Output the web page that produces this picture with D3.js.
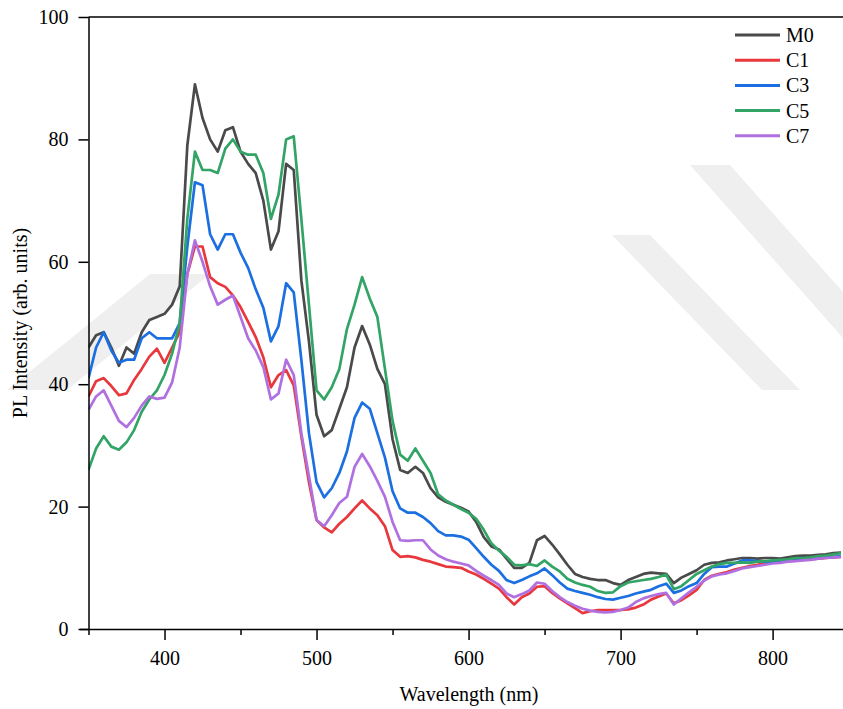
<!DOCTYPE html>
<html>
<head>
<meta charset="utf-8">
<script src="https://cdn.jsdelivr.net/npm/d3@7"></script>
<style>
  html, body { margin: 0; padding: 0; background: #fff; }
  svg { display: block; }
  text { font-family: "Liberation Serif", "Times New Roman", serif; fill: #000; }
</style>
</head>
<body>
<svg id="chart" width="843" height="709"></svg>
<script>
const wavelengths = [350,355,360,365,370,375,380,385,390,395,400,405,410,415,420,425,430,435,440,445,450,455,460,465,470,475,480,485,490,495,500,505,510,515,520,525,530,535,540,545,550,555,560,565,570,575,580,585,590,595,600,605,610,615,620,625,630,635,640,645,650,655,660,665,670,675,680,685,690,695,700,705,710,715,720,725,730,735,740,745,750,755,760,765,770,775,780,785,790,795,800,805,810,815,820,825,830,835,840,845];

const M0 = [46,48,48.5,46,43,46,45,48.5,50.5,51,51.5,53,56,79,89,83.5,80,78,81.5,82,78,76,74.5,70,62,65,76,75,57,47,35,31.5,32.5,36,39.5,46,49.5,46.5,42.5,40,31,26,25.5,26.5,25.5,23,21.5,20.8,20.3,19.8,19.2,17.5,15,13.5,13,11.5,10,10,10.8,14.5,15.2,13.8,12.2,10.5,9,8.5,8.2,8,8,7.5,7.2,8,8.5,9,9.2,9.1,9,7.5,8.4,9,9.6,10.5,10.8,10.9,11.2,11.4,11.6,11.6,11.5,11.6,11.6,11.5,11.7,11.9,12,12,12.1,12.2,12.4,12.5];

const C1 = [38,40.5,41,39.7,38.2,38.5,40.7,42.5,44.5,45.8,43.5,46,48.5,58,62.5,62.5,57.5,56.5,55.9,54.5,52.6,50.2,47.7,44.4,39.5,41.5,42.3,39.8,31.5,24,17.8,16.6,15.8,17.2,18.3,19.7,21,19.7,18.6,16.8,12.9,11.8,11.9,11.7,11.3,11,10.6,10.2,10.1,10,9.4,8.9,8.2,7.4,6.6,5.2,4,5.2,5.8,6.9,7,5.9,5,4.2,3.4,2.6,2.9,3.1,3.1,3.1,3.1,3.2,3.5,4,4.8,5.3,5.8,4.2,4.7,5.5,6.4,8,8.7,9,9.3,9.7,10,10.3,10.5,10.8,10.9,11,11.1,11.2,11.3,11.4,11.5,11.6,11.7,11.8];

const C3 = [41,46,48.5,45.5,43.5,44,44,47.5,48.5,47.5,47.5,47.5,50,62.5,73,72.5,64.5,62,64.5,64.5,61.5,59,55.5,52.5,47,49.5,56.5,55,44,32,24,21.5,23,25.5,29,34.5,37,36,32,28,22.5,19.7,19,19,18.3,17.3,16,15.3,15.3,15.1,14.6,13.2,11.8,10.5,9.5,8,7.5,8,8.6,9.1,9.9,8.8,7.6,6.6,6.2,5.9,5.6,5.2,4.9,4.8,5.1,5.4,5.8,6.1,6.4,7,7.4,5.9,6.3,7,7.5,9,10.1,10.2,10.2,10.7,11.2,11.2,11.1,11,11,11,11.1,11.3,11.4,11.5,11.6,11.7,11.8,11.9];

const C5 = [26,29.5,31.5,29.8,29.3,30.5,32.5,35.5,37.5,39,41.5,45,50,67,78,75,75,74.5,78.5,80,78,77.5,77.5,74.5,67,71,80,80.5,67,53,39,37.5,39.5,42.5,49,53,57.5,54,51,42.5,34,28.5,27.5,29.5,27.5,25.5,22,21,20.3,19.6,19,18,16.2,14,12.8,11.8,10.5,10.4,10.6,10.3,11.2,10.2,9.4,8.2,7.6,7.2,6.9,6.2,5.9,6,7,7.6,7.8,8,8.2,8.5,8.9,6.5,7,8,9,9.6,10.2,10.6,10.8,10.8,10.9,10.8,11,11.1,11.2,11.3,11.4,11.6,11.6,11.7,11.9,12,12.2,12.4];

const C7 = [35.8,38,39,36.5,34,33,34.5,36.5,38,37.6,37.8,40.3,46,58,63.5,60,56,53,53.8,54.5,51,47.5,45.5,42.8,37.5,38.5,44,41.5,32,25,17.8,16.8,18.6,20.6,21.6,26.5,28.6,26.6,24.2,21.6,17.5,14.5,14.4,14.5,14.5,13,12,11.4,11,10.7,10.4,9.5,8.7,8,7.2,5.8,5.2,5.7,6.3,7.6,7.4,6.2,5.2,4.4,3.8,3.3,3,2.8,2.7,2.8,3.1,3.5,4.4,5,5.4,5.7,5.9,4,5,6,6.9,7.9,8.6,8.9,9.1,9.5,9.9,10.1,10.3,10.5,10.7,10.8,11,11.1,11.2,11.3,11.5,11.6,11.7,11.8];

const seriesNames = ["M0", "C1", "C3", "C5", "C7"];
const seriesValues = [M0, C1, C3, C5, C7];
const seriesColors = ["#4a4a4a", "#e8383d", "#1b6fe0", "#32a466", "#b070e0"];

const xMajorTicks = [400, 500, 600, 700, 800];
const xMinorTicks = [350, 450, 550, 650, 750];
const yTicks = [0, 20, 40, 60, 80, 100];

const svg = d3.select("#chart");

// faint background watermark bands (decorative)
const wm = svg.append("g").attr("fill", "#efefef");
[
  [[7,390],[90,323],[150,274],[210,274],[67,390]],
  [[612,235],[650,235],[800,390],[762,390]],
  [[690,165],[730,165],[843,292],[843,338]]
].forEach(p => wm.append("polygon").attr("points", p.map(q => q.join(",")).join(" ")));

const x = d3.scaleLinear().domain([350, 846.3]).range([88.5, 843]);
const y = d3.scaleLinear().domain([0, 100]).range([629, 17]);

svg.append("defs").append("clipPath").attr("id", "plotclip")
  .append("rect").attr("x", 88.5).attr("y", 17).attr("width", 843 - 88.5).attr("height", 612);

const line = d3.line().x((d, i) => x(wavelengths[i])).y(d => y(d));
const gLines = svg.append("g").attr("clip-path", "url(#plotclip)");
seriesValues.forEach((vals, k) => {
  gLines.append("path")
    .datum(vals)
    .attr("d", line)
    .attr("fill", "none")
    .attr("stroke", seriesColors[k])
    .attr("stroke-width", 2.7)
    .attr("stroke-linejoin", "round");
});

svg.append("line").attr("x1", 88.5).attr("x2", 843).attr("y1", 17).attr("y2", 17)
  .attr("stroke", "#000").attr("stroke-width", 1.5);

const xAxis = d3.axisBottom(x).tickValues(xMajorTicks).tickSize(11).tickPadding(11).tickFormat(d3.format("d"));
const gx = svg.append("g").attr("transform", "translate(0,629)").call(xAxis);
gx.select(".domain").attr("stroke-width", 1.5).attr("d", "M80,0.5H843");
gx.selectAll(".tick line").attr("stroke-width", 1.5);
gx.selectAll(".tick text").attr("font-size", 20).attr("font-family", "Liberation Serif, serif");
const xMinor = d3.axisBottom(x).tickValues(xMinorTicks).tickSize(6).tickFormat("");
const gxm = svg.append("g").attr("transform", "translate(0,629)").call(xMinor);
gxm.select(".domain").remove();
gxm.selectAll(".tick line").attr("stroke-width", 1.5);

const yAxis = d3.axisLeft(y).tickValues(yTicks).tickSize(10).tickPadding(10).tickFormat(d3.format("d"));
const gy = svg.append("g").attr("transform", "translate(88.5,0)").call(yAxis);
gy.select(".domain").attr("stroke-width", 1.5).attr("d", "M0.5,17V629");
gy.selectAll(".tick line").attr("stroke-width", 1.5);
gy.selectAll(".tick text").attr("font-size", 20).attr("font-family", "Liberation Serif, serif");

svg.append("text").attr("x", 469).attr("y", 701).attr("text-anchor", "middle")
  .attr("font-size", 20).text("Wavelength (nm)");
svg.append("text").attr("transform", "translate(27,323) rotate(-90)").attr("text-anchor", "middle")
  .attr("font-size", 20).text("PL Intensity (arb. units)");

const leg = svg.append("g");
seriesNames.forEach((name, k) => {
  const ly = 35 + k * 25.2;
  leg.append("line").attr("x1", 735).attr("x2", 780).attr("y1", ly).attr("y2", ly)
    .attr("stroke", seriesColors[k]).attr("stroke-width", 3);
  leg.append("text").attr("x", 786).attr("y", ly).attr("dy", "0.35em")
    .attr("font-size", 20).text(name);
});
</script>
</body>
</html>
